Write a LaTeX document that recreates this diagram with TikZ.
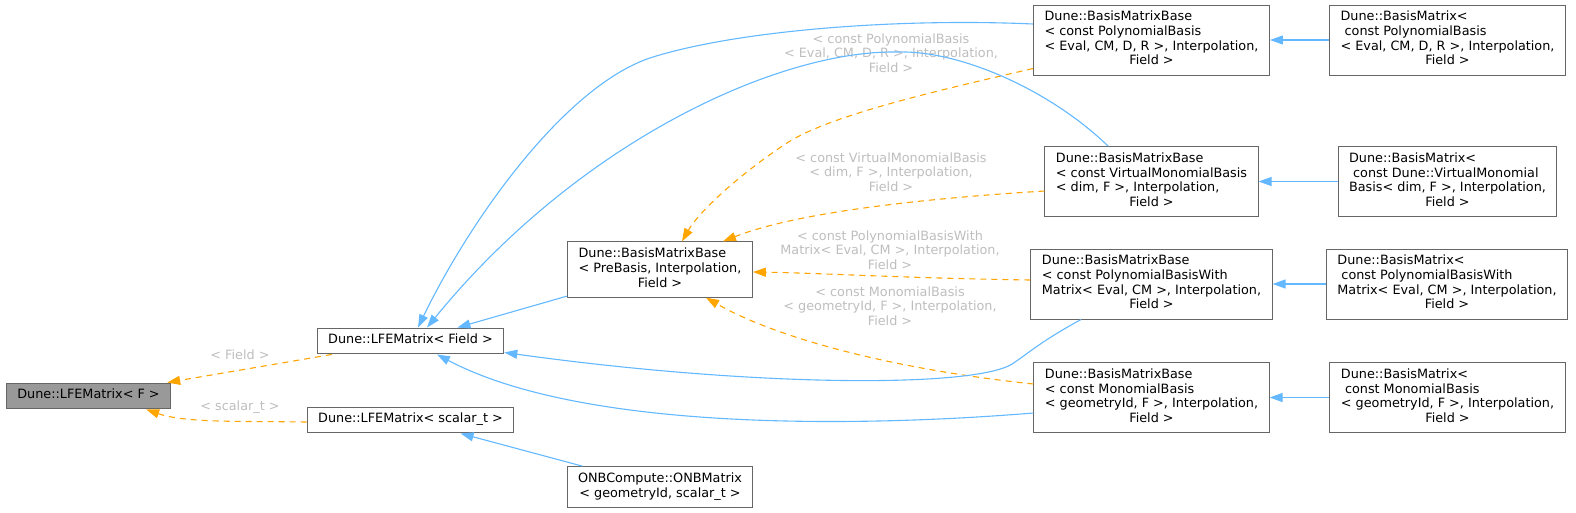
\documentclass[tikz,border=0pt]{standalone}
\usepackage{fontspec}
\setmainfont{DejaVu Sans}
\usetikzlibrary{arrows.meta,calc}
\definecolor{inhblue}{HTML}{63B8FF}
\definecolor{tmplorange}{HTML}{FFA500}
\definecolor{boxline}{HTML}{666666}
\definecolor{mainfill}{HTML}{999999}
\definecolor{lblgray}{HTML}{BEBEBE}
\newcommand{\clsfont}{\fontsize{12.8}{14.7}\selectfont}
\newcommand{\oneline}[1]{\begin{tabular}{@{}c@{}}#1\end{tabular}}
\newcommand{\clslines}[2]{\begin{tabular}{@{}l@{}}#1\\\multicolumn{1}{@{}c@{}}{#2}\end{tabular}}
\tikzset{
  cnode/.style={draw=boxline,fill=white,line width=1pt,font=\clsfont,
    inner xsep=11pt,inner ysep=5.6pt},
  rnode/.style={cnode,fill=mainfill},
  iedge/.style={-{Triangle[length=13pt,width=9pt]},line width=1.1pt,color=inhblue},
  tedge/.style={-{Triangle[length=13pt,width=9pt]},line width=1.1pt,color=tmplorange,
    dash pattern=on 6pt off 5pt},
  elabel/.style={font=\clsfont,text=lblgray,align=center,inner sep=0pt},
}
\begin{document}
\begin{tikzpicture}[x=1pt,y=-1pt]
  \useasboundingbox (0,0) rectangle (1576,512);
  % classes
  \node[rnode] (lfeF) at (88.5,396){\oneline{Dune::LFEMatrix< F >}};
  \node[cnode] (lfeField) at (410.5,341){\oneline{Dune::LFEMatrix< Field >}};
  \node[cnode] (lfeScal) at (410.5,420){\oneline{Dune::LFEMatrix< scalar\_t >}};
  \node[cnode] (onb) at (660,487){\clslines{ONBCompute::ONBMatrix}{< geometryId, scalar\_t >}};
  \node[cnode] (preBasis) at (660,269.5){\clslines{Dune::BasisMatrixBase\\< PreBasis, Interpolation,}{Field >}};
  \node[cnode] (bmbPoly) at (1151.5,40){\clslines{Dune::BasisMatrixBase\\< const PolynomialBasis\\< Eval, CM, D, R >, Interpolation,}{Field >}};
  \node[cnode] (bmbVirt) at (1151.5,181.5){\clslines{Dune::BasisMatrixBase\\< const VirtualMonomialBasis\\< dim, F >, Interpolation,}{Field >}};
  \node[cnode] (bmbPolyM) at (1151.5,284){\clslines{Dune::BasisMatrixBase\\< const PolynomialBasisWith\\Matrix< Eval, CM >, Interpolation,}{Field >}};
  \node[cnode] (bmbMono) at (1151.5,397.5){\clslines{Dune::BasisMatrixBase\\< const MonomialBasis\\< geometryId, F >, Interpolation,}{Field >}};
  \node[cnode] (bmPoly) at (1447.5,40){\clslines{Dune::BasisMatrix<\\\ const PolynomialBasis\\< Eval, CM, D, R >, Interpolation,}{Field >}};
  \node[cnode] (bmVirt) at (1447.5,181.5){\clslines{Dune::BasisMatrix<\\\ const Dune::VirtualMonomial\\Basis< dim, F >, Interpolation,}{Field >}};
  \node[cnode] (bmPolyM) at (1447,284){\clslines{Dune::BasisMatrix<\\\ const PolynomialBasisWith\\Matrix< Eval, CM >, Interpolation,}{Field >}};
  \node[cnode] (bmMono) at (1447.5,397.5){\clslines{Dune::BasisMatrix<\\\ const MonomialBasis\\< geometryId, F >, Interpolation,}{Field >}};
  % template instances
  \draw[tedge] (lfeField)--(lfeF);
  \draw[tedge] ($(lfeScal.west)+(0,2)$) .. controls (240,421) and (185,423) .. ($(lfeF.south east)+(-25,0)$);
  \draw[tedge] ($(bmbPoly.south west)+(0,-7)$) .. controls (940,90) and (830,115) .. (787,143)
    .. controls (744,171) and (700,210) .. ($(preBasis.north)+(22,0)$);
  \draw[tedge] ($(bmbVirt.west)+(0,9.5)$) .. controls (900,200) and (790,215) .. ($(preBasis.north)+(63,0)$);
  \draw[tedge] ($(bmbPolyM.west)+(0,-4)$) .. controls (900,278) and (820,273) .. ($(preBasis.east)+(0,2.5)$);
  \draw[tedge] ($(bmbMono.west)+(0,-13.5)$) .. controls (900,370) and (780,340) .. ($(preBasis.south)+(46,0)$);
  \node[elabel] (lblField) at (240,355){< Field >};
  \node[elabel] (lblScal) at (240,407){< scalar\_t >};
  \node[elabel] (lblPoly) at (891,53){< const PolynomialBasis\\< Eval, CM, D, R >, Interpolation,\\Field >};
  \node[elabel] (lblVirt) at (891,172){< const VirtualMonomialBasis\\< dim, F >, Interpolation,\\Field >};
  \node[elabel] (lblPolyM) at (890,250){< const PolynomialBasisWith\\Matrix< Eval, CM >, Interpolation,\\Field >};
  \node[elabel] (lblMono) at (890,306){< const MonomialBasis\\< geometryId, F >, Interpolation,\\Field >};
  % inheritance
  \draw[iedge] (onb)--(lfeScal);
  \draw[iedge] (preBasis)--(lfeField);
  \draw[iedge] ($(bmbPoly.west)+(0,-16)$) .. controls (900,18) and (740,30) .. (653,57)
    .. controls (566,84) and (470,220) .. ($(lfeField.north)+(7.5,0)$);
  \draw[iedge] ($(bmbVirt.north)+(-43.5,0)$) .. controls (1050,90) and (960,50) .. (897,52)
    .. controls (780,50) and (580,140) .. ($(lfeField.north)+(16.5,0)$);
  \draw[iedge] ($(bmbPolyM.south)+(-70.5,0)$) .. controls (1040,342) and (1030,352) .. (1015,362)
    .. controls (985,388) and (760,388) .. ($(lfeField.south east)+(0,-2)$);
  \draw[iedge] ($(bmbMono.west)+(0,15.5)$) .. controls (850,428) and (580,430) .. ($(lfeField.south)+(26.5,0)$);
  \draw[iedge] (bmPoly)--(bmbPoly); \draw[iedge] (bmVirt)--(bmbVirt);
  \draw[iedge] (bmPolyM)--(bmbPolyM); \draw[iedge] (bmMono)--(bmbMono);
\end{tikzpicture}
\end{document}
